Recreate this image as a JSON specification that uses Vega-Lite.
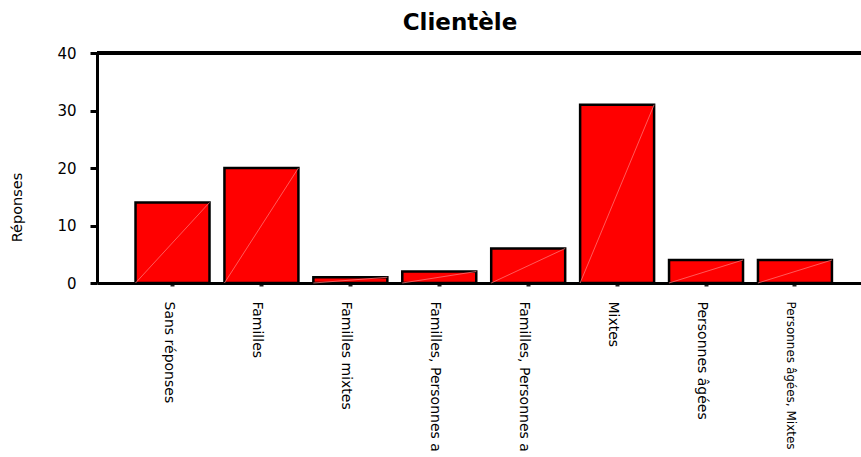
{
  "$schema": "https://vega.github.io/schema/vega-lite/v6.json",
  "autosize": "none",
  "width": 764,
  "height": 230,
  "padding": {"left": 97, "top": 53, "right": 0, "bottom": 174},
  "background": "white",
  "title": {
    "text": "Clientèle",
    "font": "DejaVu Sans",
    "fontSize": 23,
    "fontWeight": "bold",
    "color": "black",
    "anchor": "middle",
    "dx": -19,
    "offset": 11
  },
  "data": {
    "values": [
      {"clientele": "Sans réponses", "reponses": 14},
      {"clientele": "Familles", "reponses": 20},
      {"clientele": "Familles mixtes", "reponses": 1},
      {"clientele": "Familles, Personnes âgées", "reponses": 2},
      {"clientele": "Familles, Personnes âgées, Mixtes", "reponses": 6},
      {"clientele": "Mixtes", "reponses": 31},
      {"clientele": "Personnes âgées", "reponses": 4},
      {"clientele": "Personnes âgées, Mixtes", "reponses": 4}
    ]
  },
  "layer": [
    {
      "mark": {"type": "bar", "fill": "#ff0000", "stroke": "black", "strokeWidth": 2.5},
      "encoding": {
        "x": {
          "field": "clientele",
          "type": "nominal",
          "sort": null,
          "scale": {"paddingInner": 0.168, "paddingOuter": 0.38, "align": 0.57},
          "axis": {
            "title": null,
            "labelAngle": 90,
            "labelAlign": "left",
            "labelBaseline": "middle",
            "labelFont": "DejaVu Sans",
            "labelFontSize": {"condition": {"test": "datum.value === 'Personnes âgées, Mixtes'", "value": 12}, "value": 14},
            "labelColor": "black",
            "labelPadding": 15,
            "labelOffset": -4,
            "labelLimit": 400,
            "labelExpr": "length(datum.label) > 23 ? replace(substring(datum.label, 0, 21), 'â', 'a') : datum.label",
            "domainColor": "black",
            "domainWidth": 3,
            "tickColor": "#222",
            "tickSize": 3,
            "tickWidth": 4
          }
        },
        "y": {
          "field": "reponses",
          "type": "quantitative",
          "scale": {"domain": [0, 40], "nice": false},
          "axis": {
            "title": "Réponses",
            "titleFont": "DejaVu Sans",
            "titleFontSize": 14.5,
            "titleFontWeight": "normal",
            "titleColor": "black",
            "titleAngle": -90,
            "titleX": -80,
            "titleY": 154,
            "titleAlign": "center",
            "titleBaseline": "middle",
            "values": [0, 10, 20, 30, 40],
            "grid": false,
            "labelFont": "DejaVu Sans",
            "labelFontSize": 15,
            "labelColor": "black",
            "labelPadding": 14,
            "domainColor": "black",
            "domainWidth": 3,
            "tickColor": "black",
            "tickSize": 7,
            "tickWidth": 3
          }
        }
      }
    },
    {
      "mark": {"type": "rule", "color": "#ff8080", "strokeWidth": 1, "opacity": 0.7},
      "encoding": {
        "x": {"field": "clientele", "type": "nominal", "sort": null, "bandPosition": 1},
        "x2": {"field": "clientele", "bandPosition": 0},
        "y": {"field": "reponses", "type": "quantitative"},
        "y2": {"datum": 0}
      }
    },
    {
      "mark": {"type": "rule", "color": "black", "strokeWidth": 3},
      "encoding": {"y": {"datum": 40, "type": "quantitative"}}
    }
  ],
  "config": {"view": {"stroke": null}}
}
